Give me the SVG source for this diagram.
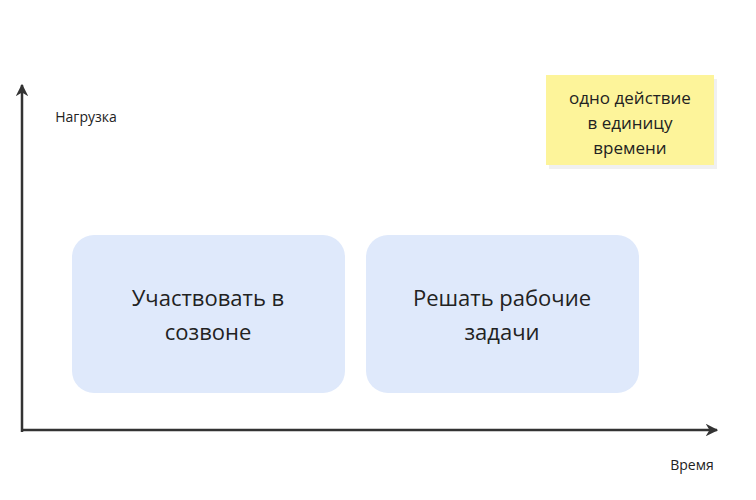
<svg xmlns="http://www.w3.org/2000/svg" width="756" height="500" viewBox="0 0 756 500">
<style>
.box{fill:#dfe9fb}
.t{font-family:"Open Sans","Noto Sans",sans-serif;fill:#222;text-anchor:middle}
.big{font-size:22px}
.ax{stroke:#333;stroke-width:2.5;fill:none}
</style>
<defs><marker id="a" viewBox="0 0 10 10" refX="9" refY="5" markerWidth="5" markerHeight="5" orient="auto"><path d="M0,0L10,5L0,10L3,5z" fill="#333"/></marker></defs>
<rect width="756" height="500" fill="#fff"/>
<g id="connectors">
<path class="ax" d="M22,432V85" marker-end="url(#a)"/>
<path class="ax" d="M22,430H717" marker-end="url(#a)"/>
</g>
<g id="ylabel"><text class="t" x="86" y="122" font-size="14">Нагрузка</text></g>
<g id="xlabel"><text class="t" x="692" y="470" font-size="14">Время</text></g>
<g id="note">
<rect x="548" y="77" width="168" height="90" fill="#000" opacity="0.06" transform="translate(1,2)"/>
<rect x="546" y="75" width="168" height="90" fill="#fdf49a"/>
<text class="t" x="630" y="104" font-size="17">одно действие</text>
<text class="t" x="630" y="129" font-size="17">в единицу</text>
<text class="t" x="630" y="154" font-size="17">времени</text>
</g>
<g id="n1">
<rect class="box" x="72" y="235" width="273" height="158" rx="22"/>
<text class="t big" x="208" y="306">Участвовать в</text>
<text class="t big" x="208" y="340">созвоне</text>
</g>
<g id="n2">
<rect class="box" x="366" y="235" width="273" height="158" rx="22"/>
<text class="t big" x="502" y="306">Решать рабочие</text>
<text class="t big" x="502" y="340">задачи</text>
</g>
</svg>
